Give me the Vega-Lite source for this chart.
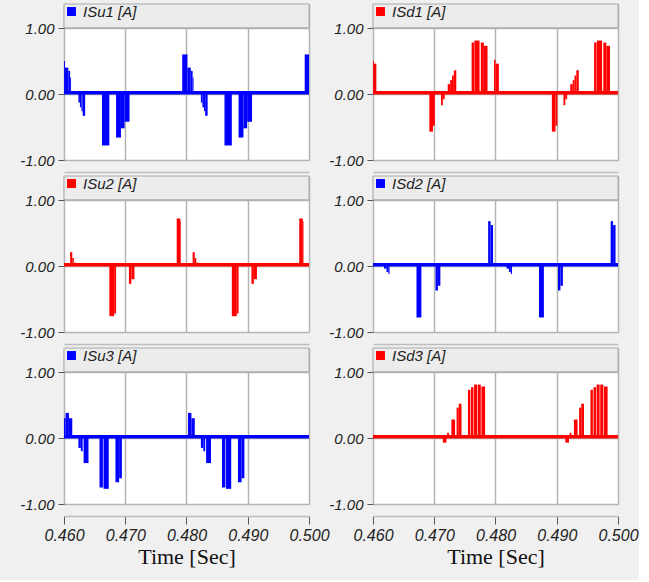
{
  "$schema": "https://vega.github.io/schema/vega-lite/v6.json",
  "background": "#f0f0f0",
  "padding": {"left": 19, "top": 3, "right": 0, "bottom": 12},
  "columns": 2,
  "bounds": "flush",
  "spacing": {"row": 16, "column": 64},
  "resolve": {"scale": {"color": "independent"}, "legend": {"color": "independent"}},
  "config": {
    "view": {"stroke": "#a8a8a8", "fill": "white"},
    "axis": {"labelFont": "Liberation Sans", "labelFontStyle": "italic", "labelFontSize": 15, "labelColor": "#222", "tickColor": "#555", "gridColor": "#b4b4b4", "gridWidth": 1.5, "labelFlush": false},
    "legend": {"orient": "top-left", "offset": 0, "padding": 0, "symbolType": "square", "symbolSize": 80, "symbolStrokeWidth": 0, "labelFont": "Liberation Sans", "labelFontStyle": "italic", "labelFontSize": 15, "labelColor": "#222", "labelOffset": 4}
  },
  "datasets": {
    "d": [
      {"s":"ISu1 [A]","t0":0.46000,"t1":0.46015,"v":0.5},
      {"s":"ISu1 [A]","t0":0.46015,"t1":0.46070,"v":0.4},
      {"s":"ISu1 [A]","t0":0.46070,"t1":0.46100,"v":0.35},
      {"s":"ISu1 [A]","t0":0.46100,"t1":0.46115,"v":0.25},
      {"s":"ISu1 [A]","t0":0.46235,"t1":0.46260,"v":-0.13},
      {"s":"ISu1 [A]","t0":0.46260,"t1":0.46285,"v":-0.2},
      {"s":"ISu1 [A]","t0":0.46285,"t1":0.46305,"v":-0.26},
      {"s":"ISu1 [A]","t0":0.46305,"t1":0.46345,"v":-0.33},
      {"s":"ISu1 [A]","t0":0.46620,"t1":0.46740,"v":-0.78},
      {"s":"ISu1 [A]","t0":0.46850,"t1":0.46930,"v":-0.66},
      {"s":"ISu1 [A]","t0":0.46930,"t1":0.46990,"v":-0.52},
      {"s":"ISu1 [A]","t0":0.46990,"t1":0.47070,"v":-0.42},
      {"s":"ISu1 [A]","t0":0.47930,"t1":0.48015,"v":0.6},
      {"s":"ISu1 [A]","t0":0.48015,"t1":0.48070,"v":0.4},
      {"s":"ISu1 [A]","t0":0.48070,"t1":0.48100,"v":0.35},
      {"s":"ISu1 [A]","t0":0.48100,"t1":0.48115,"v":0.25},
      {"s":"ISu1 [A]","t0":0.48235,"t1":0.48260,"v":-0.13},
      {"s":"ISu1 [A]","t0":0.48260,"t1":0.48285,"v":-0.2},
      {"s":"ISu1 [A]","t0":0.48285,"t1":0.48305,"v":-0.26},
      {"s":"ISu1 [A]","t0":0.48305,"t1":0.48345,"v":-0.33},
      {"s":"ISu1 [A]","t0":0.48620,"t1":0.48740,"v":-0.78},
      {"s":"ISu1 [A]","t0":0.48850,"t1":0.48930,"v":-0.66},
      {"s":"ISu1 [A]","t0":0.48930,"t1":0.48990,"v":-0.52},
      {"s":"ISu1 [A]","t0":0.48990,"t1":0.49070,"v":-0.42},
      {"s":"ISu1 [A]","t0":0.49930,"t1":0.50000,"v":0.6},

      {"s":"ISd1 [A]","t0":0.46000,"t1":0.46015,"v":0.5},
      {"s":"ISd1 [A]","t0":0.46015,"t1":0.46055,"v":0.46},
      {"s":"ISd1 [A]","t0":0.46920,"t1":0.46980,"v":-0.57},
      {"s":"ISd1 [A]","t0":0.46980,"t1":0.47010,"v":-0.48},
      {"s":"ISd1 [A]","t0":0.47110,"t1":0.47140,"v":-0.17},
      {"s":"ISd1 [A]","t0":0.47140,"t1":0.47170,"v":-0.08},
      {"s":"ISd1 [A]","t0":0.47190,"t1":0.47220,"v":0.04},
      {"s":"ISd1 [A]","t0":0.47220,"t1":0.47260,"v":0.15},
      {"s":"ISd1 [A]","t0":0.47260,"t1":0.47290,"v":0.21},
      {"s":"ISd1 [A]","t0":0.47290,"t1":0.47320,"v":0.28},
      {"s":"ISd1 [A]","t0":0.47320,"t1":0.47360,"v":0.36},
      {"s":"ISd1 [A]","t0":0.47610,"t1":0.47650,"v":0.78},
      {"s":"ISd1 [A]","t0":0.47655,"t1":0.47740,"v":0.81},
      {"s":"ISd1 [A]","t0":0.47760,"t1":0.47810,"v":0.78},
      {"s":"ISd1 [A]","t0":0.47810,"t1":0.47870,"v":0.73},
      {"s":"ISd1 [A]","t0":0.47975,"t1":0.48000,"v":0.52},
      {"s":"ISd1 [A]","t0":0.48000,"t1":0.48055,"v":0.46},
      {"s":"ISd1 [A]","t0":0.48920,"t1":0.48980,"v":-0.57},
      {"s":"ISd1 [A]","t0":0.48980,"t1":0.49010,"v":-0.48},
      {"s":"ISd1 [A]","t0":0.49110,"t1":0.49140,"v":-0.17},
      {"s":"ISd1 [A]","t0":0.49140,"t1":0.49170,"v":-0.08},
      {"s":"ISd1 [A]","t0":0.49190,"t1":0.49220,"v":0.04},
      {"s":"ISd1 [A]","t0":0.49220,"t1":0.49260,"v":0.15},
      {"s":"ISd1 [A]","t0":0.49260,"t1":0.49290,"v":0.21},
      {"s":"ISd1 [A]","t0":0.49290,"t1":0.49320,"v":0.28},
      {"s":"ISd1 [A]","t0":0.49320,"t1":0.49360,"v":0.36},
      {"s":"ISd1 [A]","t0":0.49610,"t1":0.49650,"v":0.78},
      {"s":"ISd1 [A]","t0":0.49655,"t1":0.49740,"v":0.81},
      {"s":"ISd1 [A]","t0":0.49760,"t1":0.49810,"v":0.78},
      {"s":"ISd1 [A]","t0":0.49810,"t1":0.49870,"v":0.73},

      {"s":"ISu2 [A]","t0":0.46100,"t1":0.46135,"v":0.21},
      {"s":"ISu2 [A]","t0":0.46135,"t1":0.46160,"v":0.12},
      {"s":"ISu2 [A]","t0":0.46160,"t1":0.46200,"v":0.05},
      {"s":"ISu2 [A]","t0":0.46740,"t1":0.46820,"v":-0.76},
      {"s":"ISu2 [A]","t0":0.46820,"t1":0.46850,"v":-0.72},
      {"s":"ISu2 [A]","t0":0.47060,"t1":0.47100,"v":-0.27},
      {"s":"ISu2 [A]","t0":0.47100,"t1":0.47150,"v":-0.2},
      {"s":"ISu2 [A]","t0":0.47840,"t1":0.47900,"v":0.72},
      {"s":"ISu2 [A]","t0":0.47900,"t1":0.47910,"v":0.68},
      {"s":"ISu2 [A]","t0":0.48100,"t1":0.48135,"v":0.21},
      {"s":"ISu2 [A]","t0":0.48135,"t1":0.48160,"v":0.12},
      {"s":"ISu2 [A]","t0":0.48160,"t1":0.48200,"v":0.05},
      {"s":"ISu2 [A]","t0":0.48740,"t1":0.48820,"v":-0.76},
      {"s":"ISu2 [A]","t0":0.48820,"t1":0.48850,"v":-0.72},
      {"s":"ISu2 [A]","t0":0.49060,"t1":0.49100,"v":-0.27},
      {"s":"ISu2 [A]","t0":0.49100,"t1":0.49150,"v":-0.2},
      {"s":"ISu2 [A]","t0":0.49840,"t1":0.49900,"v":0.72},
      {"s":"ISu2 [A]","t0":0.49900,"t1":0.49910,"v":0.68},

      {"s":"ISd2 [A]","t0":0.46180,"t1":0.46220,"v":-0.04},
      {"s":"ISd2 [A]","t0":0.46220,"t1":0.46250,"v":-0.09},
      {"s":"ISd2 [A]","t0":0.46250,"t1":0.46270,"v":-0.12},
      {"s":"ISd2 [A]","t0":0.46710,"t1":0.46790,"v":-0.78},
      {"s":"ISd2 [A]","t0":0.47020,"t1":0.47060,"v":-0.37},
      {"s":"ISd2 [A]","t0":0.47060,"t1":0.47100,"v":-0.3},
      {"s":"ISd2 [A]","t0":0.47880,"t1":0.47920,"v":0.68},
      {"s":"ISd2 [A]","t0":0.47920,"t1":0.47960,"v":0.62},
      {"s":"ISd2 [A]","t0":0.48180,"t1":0.48220,"v":-0.04},
      {"s":"ISd2 [A]","t0":0.48220,"t1":0.48250,"v":-0.09},
      {"s":"ISd2 [A]","t0":0.48250,"t1":0.48270,"v":-0.12},
      {"s":"ISd2 [A]","t0":0.48710,"t1":0.48790,"v":-0.78},
      {"s":"ISd2 [A]","t0":0.49020,"t1":0.49060,"v":-0.37},
      {"s":"ISd2 [A]","t0":0.49060,"t1":0.49100,"v":-0.3},
      {"s":"ISd2 [A]","t0":0.49880,"t1":0.49920,"v":0.68},
      {"s":"ISd2 [A]","t0":0.49920,"t1":0.49960,"v":0.62},

      {"s":"ISu3 [A]","t0":0.46000,"t1":0.46025,"v":0.3},
      {"s":"ISu3 [A]","t0":0.46025,"t1":0.46080,"v":0.38},
      {"s":"ISu3 [A]","t0":0.46080,"t1":0.46135,"v":0.3},
      {"s":"ISu3 [A]","t0":0.46235,"t1":0.46275,"v":-0.15},
      {"s":"ISu3 [A]","t0":0.46275,"t1":0.46305,"v":-0.2},
      {"s":"ISu3 [A]","t0":0.46320,"t1":0.46400,"v":-0.38},
      {"s":"ISu3 [A]","t0":0.46580,"t1":0.46635,"v":-0.75},
      {"s":"ISu3 [A]","t0":0.46645,"t1":0.46730,"v":-0.77},
      {"s":"ISu3 [A]","t0":0.46840,"t1":0.46900,"v":-0.67},
      {"s":"ISu3 [A]","t0":0.46900,"t1":0.46945,"v":-0.61},
      {"s":"ISu3 [A]","t0":0.48025,"t1":0.48080,"v":0.38},
      {"s":"ISu3 [A]","t0":0.48080,"t1":0.48135,"v":0.3},
      {"s":"ISu3 [A]","t0":0.48235,"t1":0.48275,"v":-0.15},
      {"s":"ISu3 [A]","t0":0.48275,"t1":0.48305,"v":-0.2},
      {"s":"ISu3 [A]","t0":0.48320,"t1":0.48400,"v":-0.38},
      {"s":"ISu3 [A]","t0":0.48580,"t1":0.48635,"v":-0.75},
      {"s":"ISu3 [A]","t0":0.48645,"t1":0.48730,"v":-0.77},
      {"s":"ISu3 [A]","t0":0.48840,"t1":0.48900,"v":-0.67},
      {"s":"ISu3 [A]","t0":0.48900,"t1":0.48945,"v":-0.61},

      {"s":"ISd3 [A]","t0":0.47140,"t1":0.47200,"v":-0.07},
      {"s":"ISd3 [A]","t0":0.47210,"t1":0.47240,"v":0.08},
      {"s":"ISd3 [A]","t0":0.47280,"t1":0.47340,"v":0.28},
      {"s":"ISd3 [A]","t0":0.47365,"t1":0.47400,"v":0.46},
      {"s":"ISd3 [A]","t0":0.47400,"t1":0.47445,"v":0.52},
      {"s":"ISd3 [A]","t0":0.47550,"t1":0.47590,"v":0.73},
      {"s":"ISd3 [A]","t0":0.47600,"t1":0.47640,"v":0.77},
      {"s":"ISd3 [A]","t0":0.47650,"t1":0.47700,"v":0.81},
      {"s":"ISd3 [A]","t0":0.47710,"t1":0.47760,"v":0.81},
      {"s":"ISd3 [A]","t0":0.47770,"t1":0.47830,"v":0.78},
      {"s":"ISd3 [A]","t0":0.49140,"t1":0.49200,"v":-0.07},
      {"s":"ISd3 [A]","t0":0.49210,"t1":0.49240,"v":0.08},
      {"s":"ISd3 [A]","t0":0.49280,"t1":0.49340,"v":0.28},
      {"s":"ISd3 [A]","t0":0.49365,"t1":0.49400,"v":0.46},
      {"s":"ISd3 [A]","t0":0.49400,"t1":0.49445,"v":0.52},
      {"s":"ISd3 [A]","t0":0.49550,"t1":0.49590,"v":0.73},
      {"s":"ISd3 [A]","t0":0.49600,"t1":0.49640,"v":0.77},
      {"s":"ISd3 [A]","t0":0.49650,"t1":0.49700,"v":0.81},
      {"s":"ISd3 [A]","t0":0.49710,"t1":0.49760,"v":0.81},
      {"s":"ISd3 [A]","t0":0.49770,"t1":0.49830,"v":0.78}
    ]
  },
  "concat": [
    {
      "width": 245, "height": 156,
      "layer": [
        {"data": {"values": [{}]}, "mark": {"type": "rect", "fill": "#ececec", "stroke": "#a8a8a8", "strokeWidth": 1},
         "encoding": {
           "x": {"datum": 0.46, "type": "quantitative", "scale": {"domain": [0.46, 0.5], "nice": false, "zero": false},
                 "axis": {"values": [0.46, 0.47, 0.48, 0.49, 0.5], "grid": true, "labels": false, "ticks": false, "domain": true, "domainColor": "#bdbdbd", "domainWidth": 1.5, "offset": 12, "title": null}},
           "x2": {"datum": 0.5},
           "y": {"datum": 1.004, "type": "quantitative", "scale": {"domain": [-1, 1.364], "nice": false, "zero": false},
                 "axis": {"values": [-1, -0.5, 0, 0.5, 1], "grid": true, "tickSize": 6, "labelPadding": 4, "domain": false, "title": null, "labelExpr": "datum.value < 0 ? '-' + format(-datum.value, '.2f') : format(datum.value, '.2f')"}},
           "y2": {"datum": 1.364}}},
        {"data": {"values": [{}]}, "mark": {"type": "rule", "color": "#0000ff", "strokeWidth": 3.5}, "encoding": {"y": {"datum": 0.02, "type": "quantitative"}}},
        {"data": {"name": "d"}, "transform": [{"filter": "datum.s === 'ISu1 [A]'"}], "mark": {"type": "rect"},
         "encoding": {"x": {"field": "t0", "type": "quantitative"}, "x2": {"field": "t1"}, "y": {"field": "v", "type": "quantitative"}, "y2": {"datum": 0},
           "color": {"field": "s", "type": "nominal", "scale": {"domain": ["ISu1 [A]"], "range": ["#0000ff"]}, "legend": {"title": null}}}}
      ]
    },
    {
      "width": 245, "height": 156,
      "layer": [
        {"data": {"values": [{}]}, "mark": {"type": "rect", "fill": "#ececec", "stroke": "#a8a8a8", "strokeWidth": 1},
         "encoding": {
           "x": {"datum": 0.46, "type": "quantitative", "scale": {"domain": [0.46, 0.5], "nice": false, "zero": false},
                 "axis": {"values": [0.46, 0.47, 0.48, 0.49, 0.5], "grid": true, "labels": false, "ticks": false, "domain": true, "domainColor": "#bdbdbd", "domainWidth": 1.5, "offset": 12, "title": null}},
           "x2": {"datum": 0.5},
           "y": {"datum": 1.004, "type": "quantitative", "scale": {"domain": [-1, 1.364], "nice": false, "zero": false},
                 "axis": {"values": [-1, -0.5, 0, 0.5, 1], "grid": true, "tickSize": 6, "labelPadding": 4, "domain": false, "title": null, "labelExpr": "datum.value < 0 ? '-' + format(-datum.value, '.2f') : format(datum.value, '.2f')"}},
           "y2": {"datum": 1.364}}},
        {"data": {"values": [{}]}, "mark": {"type": "rule", "color": "#ff0000", "strokeWidth": 3.5}, "encoding": {"y": {"datum": 0.02, "type": "quantitative"}}},
        {"data": {"name": "d"}, "transform": [{"filter": "datum.s === 'ISd1 [A]'"}], "mark": {"type": "rect"},
         "encoding": {"x": {"field": "t0", "type": "quantitative"}, "x2": {"field": "t1"}, "y": {"field": "v", "type": "quantitative"}, "y2": {"datum": 0},
           "color": {"field": "s", "type": "nominal", "scale": {"domain": ["ISd1 [A]"], "range": ["#ff0000"]}, "legend": {"title": null}}}}
      ]
    },
    {
      "width": 245, "height": 156,
      "layer": [
        {"data": {"values": [{}]}, "mark": {"type": "rect", "fill": "#ececec", "stroke": "#a8a8a8", "strokeWidth": 1},
         "encoding": {
           "x": {"datum": 0.46, "type": "quantitative", "scale": {"domain": [0.46, 0.5], "nice": false, "zero": false},
                 "axis": {"values": [0.46, 0.47, 0.48, 0.49, 0.5], "grid": true, "labels": false, "ticks": false, "domain": true, "domainColor": "#bdbdbd", "domainWidth": 1.5, "offset": 12, "title": null}},
           "x2": {"datum": 0.5},
           "y": {"datum": 1.004, "type": "quantitative", "scale": {"domain": [-1, 1.364], "nice": false, "zero": false},
                 "axis": {"values": [-1, -0.5, 0, 0.5, 1], "grid": true, "tickSize": 6, "labelPadding": 4, "domain": false, "title": null, "labelExpr": "datum.value < 0 ? '-' + format(-datum.value, '.2f') : format(datum.value, '.2f')"}},
           "y2": {"datum": 1.364}}},
        {"data": {"values": [{}]}, "mark": {"type": "rule", "color": "#ff0000", "strokeWidth": 3.5}, "encoding": {"y": {"datum": 0.02, "type": "quantitative"}}},
        {"data": {"name": "d"}, "transform": [{"filter": "datum.s === 'ISu2 [A]'"}], "mark": {"type": "rect"},
         "encoding": {"x": {"field": "t0", "type": "quantitative"}, "x2": {"field": "t1"}, "y": {"field": "v", "type": "quantitative"}, "y2": {"datum": 0},
           "color": {"field": "s", "type": "nominal", "scale": {"domain": ["ISu2 [A]"], "range": ["#ff0000"]}, "legend": {"title": null}}}}
      ]
    },
    {
      "width": 245, "height": 156,
      "layer": [
        {"data": {"values": [{}]}, "mark": {"type": "rect", "fill": "#ececec", "stroke": "#a8a8a8", "strokeWidth": 1},
         "encoding": {
           "x": {"datum": 0.46, "type": "quantitative", "scale": {"domain": [0.46, 0.5], "nice": false, "zero": false},
                 "axis": {"values": [0.46, 0.47, 0.48, 0.49, 0.5], "grid": true, "labels": false, "ticks": false, "domain": true, "domainColor": "#bdbdbd", "domainWidth": 1.5, "offset": 12, "title": null}},
           "x2": {"datum": 0.5},
           "y": {"datum": 1.004, "type": "quantitative", "scale": {"domain": [-1, 1.364], "nice": false, "zero": false},
                 "axis": {"values": [-1, -0.5, 0, 0.5, 1], "grid": true, "tickSize": 6, "labelPadding": 4, "domain": false, "title": null, "labelExpr": "datum.value < 0 ? '-' + format(-datum.value, '.2f') : format(datum.value, '.2f')"}},
           "y2": {"datum": 1.364}}},
        {"data": {"values": [{}]}, "mark": {"type": "rule", "color": "#0000ff", "strokeWidth": 3.5}, "encoding": {"y": {"datum": 0.02, "type": "quantitative"}}},
        {"data": {"name": "d"}, "transform": [{"filter": "datum.s === 'ISd2 [A]'"}], "mark": {"type": "rect"},
         "encoding": {"x": {"field": "t0", "type": "quantitative"}, "x2": {"field": "t1"}, "y": {"field": "v", "type": "quantitative"}, "y2": {"datum": 0},
           "color": {"field": "s", "type": "nominal", "scale": {"domain": ["ISd2 [A]"], "range": ["#0000ff"]}, "legend": {"title": null}}}}
      ]
    },
    {
      "width": 245, "height": 156,
      "layer": [
        {"data": {"values": [{}]}, "mark": {"type": "rect", "fill": "#ececec", "stroke": "#a8a8a8", "strokeWidth": 1},
         "encoding": {
           "x": {"datum": 0.46, "type": "quantitative", "scale": {"domain": [0.46, 0.5], "nice": false, "zero": false},
                 "axis": {"values": [0.46, 0.47, 0.48, 0.49, 0.5], "grid": true, "labels": true, "ticks": true, "tickSize": 8, "labelPadding": 3, "labelFontSize": 16, "format": ".3f", "domain": true, "domainColor": "#bdbdbd", "domainWidth": 1.5, "offset": 12, "title": "Time [Sec]", "titleFont": "Liberation Serif", "titleFontSize": 22, "titleFontWeight": "normal", "titleColor": "#111", "titlePadding": 3}},
           "x2": {"datum": 0.5},
           "y": {"datum": 1.004, "type": "quantitative", "scale": {"domain": [-1, 1.364], "nice": false, "zero": false},
                 "axis": {"values": [-1, -0.5, 0, 0.5, 1], "grid": true, "tickSize": 6, "labelPadding": 4, "domain": false, "title": null, "labelExpr": "datum.value < 0 ? '-' + format(-datum.value, '.2f') : format(datum.value, '.2f')"}},
           "y2": {"datum": 1.364}}},
        {"data": {"values": [{}]}, "mark": {"type": "rule", "color": "#0000ff", "strokeWidth": 3.5}, "encoding": {"y": {"datum": 0.02, "type": "quantitative"}}},
        {"data": {"name": "d"}, "transform": [{"filter": "datum.s === 'ISu3 [A]'"}], "mark": {"type": "rect"},
         "encoding": {"x": {"field": "t0", "type": "quantitative"}, "x2": {"field": "t1"}, "y": {"field": "v", "type": "quantitative"}, "y2": {"datum": 0},
           "color": {"field": "s", "type": "nominal", "scale": {"domain": ["ISu3 [A]"], "range": ["#0000ff"]}, "legend": {"title": null}}}}
      ]
    },
    {
      "width": 245, "height": 156,
      "layer": [
        {"data": {"values": [{}]}, "mark": {"type": "rect", "fill": "#ececec", "stroke": "#a8a8a8", "strokeWidth": 1},
         "encoding": {
           "x": {"datum": 0.46, "type": "quantitative", "scale": {"domain": [0.46, 0.5], "nice": false, "zero": false},
                 "axis": {"values": [0.46, 0.47, 0.48, 0.49, 0.5], "grid": true, "labels": true, "ticks": true, "tickSize": 8, "labelPadding": 3, "labelFontSize": 16, "format": ".3f", "domain": true, "domainColor": "#bdbdbd", "domainWidth": 1.5, "offset": 12, "title": "Time [Sec]", "titleFont": "Liberation Serif", "titleFontSize": 22, "titleFontWeight": "normal", "titleColor": "#111", "titlePadding": 3}},
           "x2": {"datum": 0.5},
           "y": {"datum": 1.004, "type": "quantitative", "scale": {"domain": [-1, 1.364], "nice": false, "zero": false},
                 "axis": {"values": [-1, -0.5, 0, 0.5, 1], "grid": true, "tickSize": 6, "labelPadding": 4, "domain": false, "title": null, "labelExpr": "datum.value < 0 ? '-' + format(-datum.value, '.2f') : format(datum.value, '.2f')"}},
           "y2": {"datum": 1.364}}},
        {"data": {"values": [{}]}, "mark": {"type": "rule", "color": "#ff0000", "strokeWidth": 3.5}, "encoding": {"y": {"datum": 0.02, "type": "quantitative"}}},
        {"data": {"name": "d"}, "transform": [{"filter": "datum.s === 'ISd3 [A]'"}], "mark": {"type": "rect"},
         "encoding": {"x": {"field": "t0", "type": "quantitative"}, "x2": {"field": "t1"}, "y": {"field": "v", "type": "quantitative"}, "y2": {"datum": 0},
           "color": {"field": "s", "type": "nominal", "scale": {"domain": ["ISd3 [A]"], "range": ["#ff0000"]}, "legend": {"title": null}}}}
      ]
    }
  ]
}
